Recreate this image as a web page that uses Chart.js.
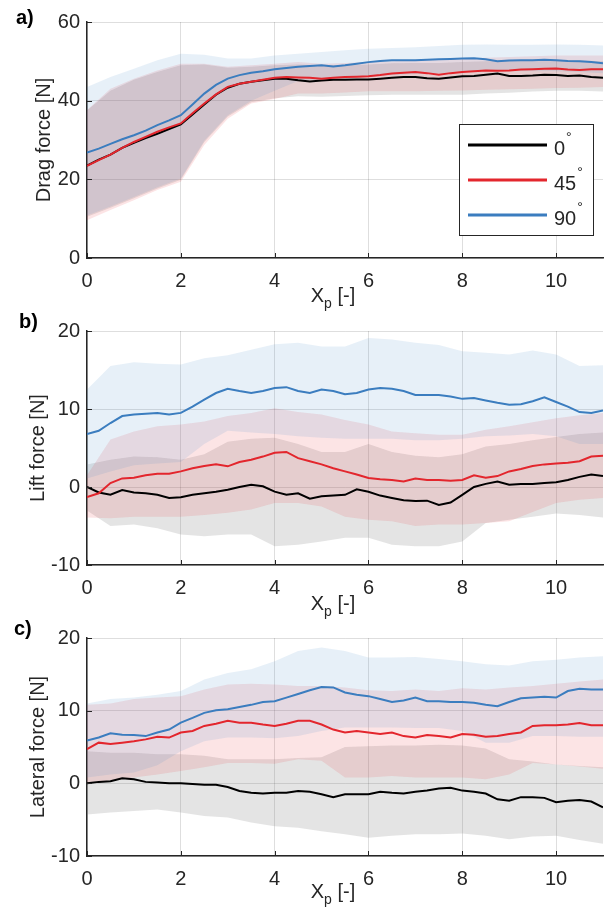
<!DOCTYPE html>
<html>
<head>
<meta charset="utf-8">
<script src="https://cdn.jsdelivr.net/npm/chart.js@4.4.0/dist/chart.umd.min.js"></script>
<style>
html, body { margin: 0; padding: 0; background: #fff; }
#wrap { position: relative; width: 611px; height: 915px; overflow: hidden; }
canvas { position: absolute; left: 0; }
</style>
</head>
<body>
<div id="wrap">
  <canvas id="dragChart" width="611" height="320" style="top:0px"></canvas>
  <canvas id="liftChart" width="611" height="320" style="top:300px"></canvas>
  <canvas id="latChart" width="611" height="315" style="top:600px"></canvas>
</div>
<script>
// x positions (Xp)
var xLine = [0, 0.25, 0.5, 0.75, 1, 1.25, 1.5, 1.75, 2, 2.25, 2.5, 2.75, 3, 3.25, 3.5, 3.75, 4, 4.25, 4.5, 4.75,
  5, 5.25, 5.5, 5.75, 6, 6.25, 6.5, 6.75, 7, 7.25, 7.5, 7.75, 8, 8.25, 8.5, 8.75, 9, 9.25, 9.5, 9.75,
  10, 10.25, 10.5, 10.75, 11];
var xBand = [0, 0.5, 1, 1.5, 2, 2.5, 3, 3.5, 4, 4.5, 5, 5.5, 6, 6.5, 7, 7.5, 8, 8.5, 9, 9.5, 10, 10.5, 11];

var legendLabels = ['0', '45', '90'];
var xTicks = [0, 2, 4, 6, 8, 10];

// a) drag force
var drag0 = [23.5, 25.0, 26.3, 28.0, 29.3, 30.5, 31.6, 32.8, 34.0, 36.5, 39.0, 41.5, 43.3, 44.3, 44.8, 45.2, 45.6, 45.6, 45.2, 44.9,
  45.1, 45.3, 45.3, 45.4, 45.4, 45.6, 45.8, 46.0, 46.0, 45.7, 45.6, 45.9, 46.2, 46.3, 46.6, 46.9, 46.3, 46.3, 46.4, 46.6,
  46.5, 46.3, 46.4, 46.0, 45.8];
var drag45 = [23.4, 24.9, 26.3, 28.0, 29.5, 30.8, 32.1, 33.2, 34.2, 36.8, 39.3, 41.6, 43.5, 44.3, 44.8, 45.3, 45.8, 46.0, 45.9, 45.8,
  45.6, 45.8, 46.0, 46.1, 46.2, 46.5, 46.9, 47.1, 47.3, 47.0, 46.6, 47.0, 47.3, 47.5, 47.7, 47.6, 47.7, 47.9, 48.0, 48.1,
  48.2, 47.9, 47.8, 48.0, 48.0];
var drag90 = [26.8, 27.8, 29.0, 30.2, 31.2, 32.4, 33.8, 35.0, 36.3, 39.0, 41.8, 44.0, 45.6, 46.5, 47.1, 47.5, 48.0, 48.3, 48.6, 48.8,
  49.0, 48.7, 49.0, 49.4, 49.8, 50.1, 50.3, 50.3, 50.3, 50.4, 50.5, 50.6, 50.7, 50.8, 50.5, 50.0, 50.2, 50.3, 50.3, 50.4,
  50.3, 50.1, 50.0, 49.8, 49.5];
var drag0Hi = [37.5, 42.5, 45.3, 47.3, 49.0, 49.2, 48.4, 48.6, 49.0, 49.2, 49.0, 49.0, 49.2, 49.5, 49.6, 49.6, 49.8, 50.0, 50.1, 50.3, 50.4, 50.2, 50.0];
var drag0Lo = [10.5, 12.8, 15.2, 17.7, 19.9, 29.5, 36.0, 39.6, 40.6, 41.1, 41.0, 41.2, 41.4, 41.5, 41.5, 41.5, 41.5, 41.8, 42.0, 42.3, 42.5, 42.5, 42.3];
var drag45Hi = [37.6, 43.0, 45.6, 47.7, 49.4, 49.4, 48.6, 49.0, 49.4, 49.8, 49.4, 49.6, 49.8, 50.0, 50.3, 50.5, 50.7, 50.9, 51.1, 51.3, 51.5, 51.5, 51.5];
var drag45Lo = [9.6, 12.2, 14.7, 17.3, 19.4, 28.7, 35.4, 39.3, 40.4, 41.8, 41.8, 42.1, 42.4, 42.4, 42.4, 42.5, 42.6, 42.8, 42.9, 43.0, 43.2, 43.3, 43.5];
var drag90Hi = [43.5, 46.0, 48.1, 50.3, 51.9, 51.7, 50.7, 50.7, 51.5, 51.9, 52.4, 52.8, 53.2, 53.4, 53.6, 53.9, 54.2, 54.3, 54.2, 54.2, 54.3, 54.2, 54.0];
var drag90Lo = [10.8, 13.1, 15.5, 18.0, 20.2, 29.8, 36.3, 40.0, 42.5, 45.0, 45.3, 45.5, 46.0, 46.5, 46.8, 47.0, 47.3, 47.5, 47.5, 47.5, 47.5, 47.3, 47.0];

// b) lift force
var lift0 = [0.0, -0.7, -1.0, -0.4, -0.7, -0.8, -1.0, -1.4, -1.3, -1.0, -0.8, -0.6, -0.35, 0.0, 0.3, 0.1, -0.6, -1.0, -0.8, -1.5,
  -1.2, -1.1, -1.0, -0.3, -0.6, -1.1, -1.4, -1.7, -1.8, -1.75, -2.3, -2.0, -1.0, 0.0, 0.4, 0.7, 0.3, 0.4, 0.4, 0.5,
  0.6, 0.9, 1.3, 1.6, 1.4];
var lift45 = [-1.3, -0.8, 0.5, 1.1, 1.2, 1.5, 1.7, 1.7, 2.0, 2.4, 2.7, 2.9, 2.65, 3.2, 3.5, 3.9, 4.4, 4.5, 3.7, 3.3,
  2.9, 2.4, 2.0, 1.6, 1.15, 1.0, 0.9, 0.7, 1.1, 0.9, 0.9, 0.8, 0.9, 1.5, 1.2, 1.4, 2.0, 2.3, 2.7, 2.9,
  3.0, 3.1, 3.3, 3.9, 4.0];
var lift90 = [6.8, 7.2, 8.2, 9.1, 9.3, 9.4, 9.5, 9.3, 9.5, 10.3, 11.2, 12.05, 12.6, 12.3, 12.05, 12.3, 12.7, 12.8, 12.3, 12.05,
  12.5, 12.3, 11.9, 12.05, 12.5, 12.7, 12.6, 12.3, 11.8, 11.8, 11.8, 11.6, 11.3, 11.4, 11.1, 10.8, 10.55, 10.6, 11.0, 11.5,
  10.9, 10.3, 9.6, 9.5, 9.8];
var lift0Hi = [2.9, 3.5, 3.9, 3.8, 3.5, 4.2, 5.8, 6.2, 6.3, 5.5, 4.5, 4.5, 5.5, 4.5, 4.0, 3.8, 4.2, 5.2, 5.5, 6.0, 6.4, 6.8, 7.0];
var lift0Lo = [-3.0, -5.0, -4.8, -5.3, -6.1, -6.3, -6.1, -6.1, -7.6, -7.4, -7.0, -6.5, -6.5, -7.4, -7.6, -7.6, -7.0, -4.6, -4.2, -3.8, -3.4, -3.6, -3.9];
var lift45Hi = [1.5, 6.1, 7.1, 7.8, 8.0, 8.4, 9.1, 9.5, 10.1, 9.6, 9.3, 8.6, 8.0, 7.1, 6.9, 6.7, 6.7, 7.35, 7.8, 8.3, 8.8, 9.2, 9.5];
var lift45Lo = [-3.9, -4.0, -3.8, -3.8, -3.8, -3.6, -3.3, -2.9, -2.05, -2.05, -2.5, -3.8, -4.2, -4.4, -5.0, -4.8, -4.8, -4.6, -4.4, -3.2, -2.05, -1.65, -1.4];
var lift90Hi = [12.5, 15.5, 16.0, 15.8, 15.7, 16.5, 16.9, 17.6, 18.3, 18.5, 18.0, 18.0, 19.1, 18.9, 18.5, 18.2, 17.4, 17.2, 17.0, 17.5, 17.0, 15.5, 15.6];
var lift90Lo = [1.1, 2.0, 2.8, 3.0, 3.2, 5.5, 7.2, 7.0, 6.8, 6.5, 6.3, 6.2, 6.2, 6.2, 6.0, 6.0, 6.2, 6.5, 6.6, 6.8, 6.5, 5.5, 5.5];

// c) lateral force
var lat0 = [0.0, 0.2, 0.3, 0.7, 0.55, 0.2, 0.1, 0.0, 0.0, -0.1, -0.2, -0.2, -0.5, -1.05, -1.3, -1.4, -1.3, -1.3, -1.05, -1.15,
  -1.5, -1.9, -1.5, -1.5, -1.5, -1.15, -1.3, -1.4, -1.15, -1.0, -0.7, -0.6, -1.0, -1.15, -1.4, -2.2, -2.4, -1.9, -1.9, -2.0,
  -2.6, -2.4, -2.3, -2.5, -3.3];
var lat45 = [4.7, 5.6, 5.4, 5.6, 5.8, 6.05, 6.4, 6.3, 7.0, 7.2, 7.9, 8.2, 8.6, 8.35, 8.35, 8.1, 7.9, 8.2, 8.6, 8.6,
  8.1, 7.4, 7.0, 7.2, 7.0, 6.8, 7.0, 6.5, 6.3, 6.65, 6.5, 6.3, 6.8, 6.7, 6.4, 6.5, 6.8, 7.0, 7.9, 8.0,
  8.0, 8.1, 8.3, 8.0, 8.0];
var lat90 = [5.9, 6.3, 6.9, 6.7, 6.65, 6.5, 7.0, 7.4, 8.35, 9.0, 9.7, 10.05, 10.2, 10.5, 10.8, 11.2, 11.3, 11.8, 12.3, 12.8,
  13.25, 13.2, 12.5, 12.2, 12.0, 11.6, 11.2, 11.4, 11.8, 11.3, 11.3, 11.2, 11.2, 11.1, 10.8, 10.6, 11.2, 11.7, 11.8, 11.9,
  11.8, 12.7, 13.0, 12.9, 12.9];
var lat0Hi = [4.4, 4.2, 4.2, 4.0, 4.0, 3.8, 3.3, 3.3, 3.3, 3.5, 3.6, 5.0, 5.1, 5.2, 5.2, 5.3, 5.2, 4.8, 3.3, 3.0, 2.6, 2.4, 2.2];
var lat0Lo = [-4.3, -4.0, -3.8, -3.6, -4.0, -4.5, -4.7, -5.4, -5.9, -6.1, -6.6, -7.0, -7.5, -7.2, -7.0, -7.0, -6.9, -7.2, -7.7, -7.3, -7.2, -7.8, -8.3];
var lat45Hi = [10.8, 11.0, 11.6, 11.8, 12.0, 12.9, 13.6, 13.7, 13.6, 13.4, 13.4, 13.2, 12.8, 12.7, 12.9, 12.7, 13.1, 12.9, 13.2, 13.4, 13.7, 14.0, 14.3];
var lat45Lo = [0.1, 0.4, 0.8, 1.2, 1.7, 2.2, 2.8, 2.8, 2.7, 3.3, 3.1, 0.8, 0.8, 1.0, 0.8, 0.8, 0.8, 0.55, 1.2, 2.8, 2.6, 2.3, 2.0];
var lat90Hi = [11.0, 11.6, 11.8, 12.2, 12.7, 14.3, 15.2, 15.7, 16.8, 18.2, 18.7, 18.2, 17.3, 17.3, 17.4, 17.1, 16.8, 16.4, 16.2, 16.8, 17.0, 17.3, 17.5];
var lat90Lo = [0.8, 1.2, 1.5, 2.5, 4.4, 5.8, 6.3, 6.3, 6.2, 6.5, 7.2, 7.7, 7.7, 7.7, 7.6, 7.6, 7.2, 5.6, 5.6, 6.5, 6.5, 6.4, 6.4];

var lineColors = ['#000000', '#e3262d', '#3b7dbf'];
var bandColors = ['rgba(120,120,120,0.2)', 'rgba(230,30,40,0.12)', 'rgba(60,130,200,0.12)'];
var axisColor = '#262626';

Chart.defaults.font.family = '"Liberation Sans", Arial, Helvetica, sans-serif';
Chart.defaults.font.size = 20;
Chart.defaults.color = axisColor;

function pts(xs, ys) {
  return xs.map(function (x, i) { return {x: x, y: ys[i]}; });
}

function lineSet(ys, color) {
  return {data: pts(xLine, ys), borderColor: color, borderWidth: 2, pointRadius: 0, fill: false, tension: 0};
}

function bandSet(ys, color, fill) {
  return {data: pts(xBand, ys), borderColor: 'rgba(0,0,0,0)', borderWidth: 0, pointRadius: 0,
    backgroundColor: color, fill: fill, tension: 0};
}

// first dataset is drawn last, so the 90 deg line ends up on top
function buildSets(l0, l45, l90, b0hi, b0lo, b45hi, b45lo, b90hi, b90lo) {
  return [
    lineSet(l90, lineColors[2]),
    lineSet(l45, lineColors[1]),
    lineSet(l0, lineColors[0]),
    bandSet(b90hi, bandColors[2], '+1'),
    bandSet(b90lo, bandColors[2], false),
    bandSet(b45hi, bandColors[1], '+1'),
    bandSet(b45lo, bandColors[1], false),
    bandSet(b0hi, bandColors[0], '+1'),
    bandSet(b0lo, bandColors[0], false)
  ];
}

var extrasPlugin = {
  id: 'extras',
  afterDraw: function (chart, args, opts) {
    var ctx = chart.ctx, a = chart.chartArea;
    var xs = chart.scales.x, ys = chart.scales.y;
    ctx.save();
    // inward ticks
    ctx.strokeStyle = axisColor;
    ctx.lineWidth = 1;
    ctx.beginPath();
    xs.ticks.forEach(function (t) {
      var px = Math.round(xs.getPixelForValue(t.value)) + 0.5;
      ctx.moveTo(px, a.bottom); ctx.lineTo(px, a.bottom - 5);
    });
    ys.ticks.forEach(function (t) {
      var py = Math.round(ys.getPixelForValue(t.value)) + 0.5;
      ctx.moveTo(a.left, py); ctx.lineTo(a.left + 5, py);
    });
    ctx.stroke();

    // panel letter
    ctx.fillStyle = '#000';
    ctx.font = 'bold 20px "Liberation Sans", Arial, sans-serif';
    ctx.textAlign = 'left';
    ctx.textBaseline = 'middle';
    ctx.fillText(opts.letter, opts.letterX, opts.letterY);

    // x title with subscript
    ctx.fillStyle = axisColor;
    ctx.textBaseline = 'alphabetic';
    var big = '20px "Liberation Sans", Arial, sans-serif';
    var small = '14px "Liberation Sans", Arial, sans-serif';
    ctx.font = big;
    var wX = ctx.measureText('X').width;
    var wR = ctx.measureText(' [-]').width;
    ctx.font = small;
    var wP = ctx.measureText('p').width;
    var x0 = (a.left + a.right) / 2 - 12 - (wX + wP + wR) / 2;
    var by = a.bottom + opts.titleOffset;
    ctx.font = big;
    ctx.fillText('X', x0, by);
    ctx.font = small;
    ctx.fillText('p', x0 + wX, by + 6);
    ctx.font = big;
    ctx.fillText(' [-]', x0 + wX + wP, by);

    if (opts.legend) {
      var bx = 459.5, bt = 124.5, bw = 134, bh = 111;
      ctx.fillStyle = '#fff';
      ctx.fillRect(bx, bt, bw, bh);
      ctx.strokeStyle = axisColor;
      ctx.lineWidth = 1;
      ctx.strokeRect(bx, bt, bw, bh);
      var rows = [145, 180, 215];
      legendLabels.forEach(function (lab, i) {
        ctx.strokeStyle = lineColors[i];
        ctx.lineWidth = 3;
        ctx.beginPath();
        ctx.moveTo(468, rows[i]); ctx.lineTo(547, rows[i]);
        ctx.stroke();
        ctx.fillStyle = axisColor;
        ctx.font = big;
        ctx.textBaseline = 'middle';
        ctx.fillText(lab, 554, rows[i] + 4);
        var w = ctx.measureText(lab).width;
        ctx.font = small;
        ctx.fillText('\u00b0', w + 555, rows[i] - 7);
      });
    }
    ctx.restore();
  }
};

function makeChart(id, sets, yMin, yMax, yStep, yTitle, yTitlePad, padTop, padBottom, extras) {
  return new Chart(document.getElementById(id), {
    type: 'line',
    data: {datasets: sets},
    plugins: [extrasPlugin],
    options: {
      responsive: false,
      animation: false,
      devicePixelRatio: 1,
      layout: {padding: {left: 0, right: 8, top: padTop, bottom: padBottom}},
      plugins: {
        legend: {display: false},
        tooltip: {enabled: false},
        extras: extras
      },
      scales: {
        x: {
          type: 'linear', min: 0, max: 11,
          afterFit: function (s) { s.height = 30; },
          afterBuildTicks: function (s) { s.ticks = xTicks.map(function (v) { return {value: v}; }); },
          grid: {color: 'rgba(0,0,0,0.13)', drawTicks: false},
          border: {display: true, color: axisColor, width: 1.5},
          ticks: {padding: 11, maxRotation: 0, color: axisColor, font: {size: 20}}
        },
        y: {
          min: yMin, max: yMax,
          afterFit: function (s) { s.width = 87; },
          grid: {color: 'rgba(0,0,0,0.13)', drawTicks: false},
          border: {display: true, color: axisColor, width: 1.5},
          ticks: {stepSize: yStep, padding: 7, color: axisColor, font: {size: 20}},
          title: {display: true, text: yTitle, color: axisColor, font: {size: 20}, padding: {top: yTitlePad, bottom: 0}}
        }
      }
    }
  });
}

// canvas A: 0..320, plot 22..258
makeChart('dragChart',
  buildSets(drag0, drag45, drag90, drag0Hi, drag0Lo, drag45Hi, drag45Lo, drag90Hi, drag90Lo),
  0, 60, 20, 'Drag force [N]', 32, 22, 32,
  {letter: 'a)', letterX: 16, letterY: 18, titleOffset: 44, legend: true});

// canvas B: 300..620, plot 331..565
makeChart('liftChart',
  buildSets(lift0, lift45, lift90, lift0Hi, lift0Lo, lift45Hi, lift45Lo, lift90Hi, lift90Lo),
  -10, 20, 10, 'Lift force [N]', 26, 31, 25,
  {letter: 'b)', letterX: 19, letterY: 22, titleOffset: 45, legend: false});

// canvas C: 600..915, plot 638..856
makeChart('latChart',
  buildSets(lat0, lat45, lat90, lat0Hi, lat0Lo, lat45Hi, lat45Lo, lat90Hi, lat90Lo),
  -10, 20, 10, 'Lateral force [N]', 26, 38, 29,
  {letter: 'c)', letterX: 14, letterY: 29, titleOffset: 42, legend: false});
</script>
</body>
</html>
